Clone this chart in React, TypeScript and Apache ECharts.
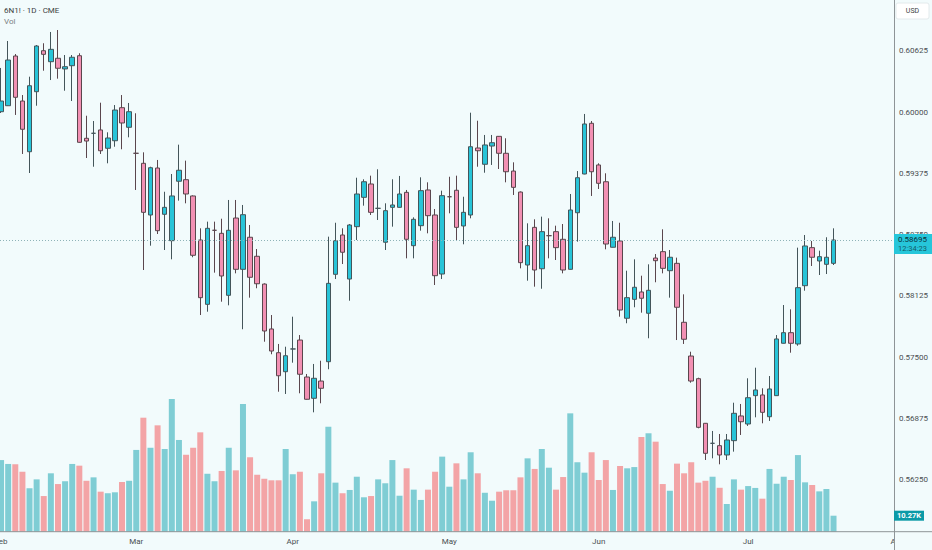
import React, { useEffect, useRef } from "react";
import * as echarts from "echarts";

// ---------- data ----------
const SYMBOL = "6N1! · 1D · CME";
const VOL_TITLE = "Vol";
const CURRENCY = "USD";
const COUNTDOWN = "12:34:23";
const SLOT_COUNT = 126; // trading-day slots shown on the time axis

// [open, close, low, high]
const candles: number[][] = [
  [0.60003, 0.60112, 0.5999, 0.60449],
  [0.60064, 0.6053, 0.60061, 0.60724],
  [0.60571, 0.6015, 0.5997, 0.60591],
  [0.60112, 0.59824, 0.59572, 0.60173],
  [0.59595, 0.60268, 0.59378, 0.6036],
  [0.60207, 0.60673, 0.60064, 0.60683],
  [0.60625, 0.60588, 0.60421, 0.60701],
  [0.60513, 0.60639, 0.60326, 0.60816],
  [0.60548, 0.60446, 0.6034, 0.60836],
  [0.60439, 0.60462, 0.60217, 0.60581],
  [0.60472, 0.60558, 0.60112, 0.60581],
  [0.60574, 0.59691, 0.59687, 0.60599],
  [0.59732, 0.59704, 0.59531, 0.59962],
  [0.59783, 0.59783, 0.59442, 0.59908],
  [0.59817, 0.59605, 0.59572, 0.60095],
  [0.5963, 0.59735, 0.59477, 0.59793],
  [0.59707, 0.6002, 0.59646, 0.60071],
  [0.60044, 0.59888, 0.5962, 0.60173],
  [0.59844, 0.60003, 0.59742, 0.60092],
  [0.59579, 0.59579, 0.59205, 0.59987],
  [0.59477, 0.58977, 0.58389, 0.59589],
  [0.5895, 0.59432, 0.58637, 0.59442],
  [0.59429, 0.5879, 0.58756, 0.59511],
  [0.58957, 0.59028, 0.58593, 0.59187],
  [0.58688, 0.59144, 0.58498, 0.59368],
  [0.59294, 0.59406, 0.59096, 0.59667],
  [0.5931, 0.59164, 0.59069, 0.59504],
  [0.59144, 0.58539, 0.58519, 0.5915],
  [0.58695, 0.58107, 0.5793, 0.58814],
  [0.58039, 0.58814, 0.57964, 0.58882],
  [0.58794, 0.58794, 0.58362, 0.58882],
  [0.58763, 0.58328, 0.58066, 0.58912],
  [0.58131, 0.58794, 0.58029, 0.59103],
  [0.58919, 0.58396, 0.58355, 0.59103],
  [0.58396, 0.58953, 0.57785, 0.59052],
  [0.58723, 0.58315, 0.58107, 0.58848],
  [0.58529, 0.58249, 0.58203, 0.58603],
  [0.58246, 0.57767, 0.57658, 0.58253],
  [0.57788, 0.57563, 0.5753, 0.5793],
  [0.57546, 0.57311, 0.57148, 0.57635],
  [0.57352, 0.57515, 0.57125, 0.57607],
  [0.57584, 0.57584, 0.57444, 0.57913],
  [0.57675, 0.57326, 0.57132, 0.57726],
  [0.57298, 0.57071, 0.57068, 0.57329],
  [0.57081, 0.57285, 0.56938, 0.57431],
  [0.57257, 0.57183, 0.5703, 0.57464],
  [0.57454, 0.58253, 0.57377, 0.58729],
  [0.58345, 0.58688, 0.58297, 0.58871],
  [0.58746, 0.5857, 0.5845, 0.58814],
  [0.58297, 0.58848, 0.58076, 0.58858],
  [0.58831, 0.59164, 0.58695, 0.5933],
  [0.5913, 0.59289, 0.59045, 0.59314],
  [0.59266, 0.58977, 0.5895, 0.59351],
  [0.59018, 0.59018, 0.58899, 0.59416],
  [0.58672, 0.58994, 0.58593, 0.59069],
  [0.59028, 0.59052, 0.58831, 0.59314],
  [0.59028, 0.59164, 0.59025, 0.59348],
  [0.59181, 0.58702, 0.58508, 0.59205],
  [0.58637, 0.58906, 0.58508, 0.58926],
  [0.58841, 0.59198, 0.5879, 0.59334],
  [0.59205, 0.58943, 0.58763, 0.59283],
  [0.5895, 0.58331, 0.58236, 0.59011],
  [0.58348, 0.59147, 0.58297, 0.59198],
  [0.59136, 0.59136, 0.58967, 0.5934],
  [0.59202, 0.58824, 0.58688, 0.59351],
  [0.58838, 0.58977, 0.58651, 0.59136],
  [0.5895, 0.59646, 0.58916, 0.59993],
  [0.59633, 0.59605, 0.59442, 0.59911],
  [0.59467, 0.59664, 0.59381, 0.59766],
  [0.59653, 0.59687, 0.5946, 0.59766],
  [0.59752, 0.59579, 0.59419, 0.59755],
  [0.59579, 0.59391, 0.59283, 0.59732],
  [0.59398, 0.59232, 0.59154, 0.59487],
  [0.59184, 0.58464, 0.58406, 0.5919],
  [0.5844, 0.58637, 0.5828, 0.58865],
  [0.58824, 0.58389, 0.58219, 0.58906],
  [0.58402, 0.5878, 0.58198, 0.58933],
  [0.58739, 0.58739, 0.58508, 0.58916],
  [0.5878, 0.58617, 0.58491, 0.58841],
  [0.58702, 0.58389, 0.58355, 0.58858],
  [0.58396, 0.59001, 0.58393, 0.59164],
  [0.58973, 0.5933, 0.58678, 0.59398],
  [0.59368, 0.59878, 0.59365, 0.5998],
  [0.59885, 0.59391, 0.59144, 0.59908],
  [0.5946, 0.59273, 0.59215, 0.59477],
  [0.59289, 0.58654, 0.586, 0.59375],
  [0.58621, 0.58723, 0.58619, 0.58889],
  [0.58685, 0.57981, 0.57913, 0.58871],
  [0.57897, 0.58107, 0.57846, 0.58382],
  [0.5809, 0.58213, 0.58009, 0.58498],
  [0.58165, 0.58101, 0.57954, 0.58331],
  [0.57948, 0.58182, 0.57693, 0.58447],
  [0.58511, 0.58484, 0.58264, 0.58552],
  [0.58576, 0.58406, 0.58355, 0.58804],
  [0.58382, 0.58519, 0.58107, 0.58593],
  [0.58457, 0.58009, 0.57675, 0.58515],
  [0.57856, 0.57683, 0.57635, 0.58141],
  [0.57512, 0.57257, 0.5724, 0.57556],
  [0.57281, 0.56785, 0.56775, 0.57291],
  [0.56826, 0.5652, 0.56452, 0.56829],
  [0.56622, 0.56622, 0.56469, 0.56748],
  [0.56598, 0.56503, 0.56408, 0.56717],
  [0.56503, 0.56656, 0.56452, 0.56717],
  [0.56649, 0.56928, 0.56537, 0.57036],
  [0.56901, 0.56842, 0.56707, 0.57023],
  [0.56819, 0.57087, 0.56799, 0.57285],
  [0.57108, 0.57166, 0.56887, 0.57393],
  [0.57115, 0.56938, 0.56826, 0.57183],
  [0.56893, 0.57176, 0.5685, 0.57308],
  [0.57108, 0.57686, 0.57105, 0.57726],
  [0.57642, 0.5775, 0.5764, 0.58032],
  [0.5775, 0.57642, 0.57546, 0.57988],
  [0.57635, 0.58209, 0.57617, 0.58617],
  [0.58229, 0.58634, 0.58178, 0.58746],
  [0.58617, 0.58519, 0.5843, 0.58685],
  [0.58481, 0.58525, 0.58338, 0.58586],
  [0.58447, 0.58519, 0.58348, 0.58723],
  [0.58457, 0.58695, 0.5844, 0.58814],
];

// volume in thousands of contracts
const volumes: number[] = [
  46.0, 43.5, 43.3, 38.5, 27.9, 33.6, 22.9, 37.5, 30.6, 32.4,
  43.5, 42.4, 32.7, 34.9, 25.7, 24.7, 25.3, 31.9, 32.7, 52.5,
  73.2, 53.9, 68.3, 53.1, 85.2, 58.9, 49.4, 53.9, 63.8, 37.2,
  32.4, 39.0, 53.9, 39.4, 82.0, 47.8, 36.6, 34.0, 33.0, 33.0,
  53.1, 36.9, 38.5, 8.0, 19.5, 37.5, 67.4, 31.5, 24.7, 26.8,
  35.3, 22.1, 22.9, 33.6, 31.1, 46.0, 23.1, 40.7, 27.0, 20.4,
  27.0, 38.5, 48.2, 28.9, 43.9, 33.6, 51.0, 37.5, 25.0, 19.9,
  25.7, 26.6, 26.6, 34.9, 47.1, 40.3, 53.1, 41.1, 27.0, 35.1,
  76.0, 44.6, 37.9, 51.0, 33.2, 46.0, 26.8, 42.2, 40.7, 41.5,
  60.8, 63.2, 57.8, 30.6, 26.3, 43.7, 37.5, 44.6, 31.5, 32.7,
  35.3, 28.2, 17.8, 33.6, 27.0, 29.3, 28.1, 21.2, 40.3, 30.8,
  35.3, 33.2, 49.2, 31.7, 30.0, 25.9, 27.4, 10.27,
];

// month labels at their first trading-day slot
const monthStarts: [string, number][] = [
  ["Feb", 0],
  ["Mar", 19],
  ["Apr", 41],
  ["May", 63],
  ["Jun", 84],
  ["Jul", 105],
  ["Aug", 126],
];

const priceTicks = [0.5625, 0.56875, 0.575, 0.58125, 0.5875, 0.59375, 0.6, 0.60625];
const PRICE_MIN = 0.557208;
const PRICE_MAX = 0.61142;
const VOL_AXIS_MAX = 341.4;

// ---------- styles ----------
const BG = "#f2fbfc";
const UP = "#28c4d8";
const DOWN = "#f290b3";
const VOL_UP = "#7fcdd4";
const VOL_DOWN = "#f3a4a6";
const FONT = "Roboto, 'DejaVu Sans', sans-serif";
const TEXT = "#4a4f52";
const AXIS_LINE = "#8e9497";

export default function App() {
  const ref = useRef<HTMLDivElement>(null);

  useEffect(() => {
    const el = ref.current;
    if (!el) return;
    const chart = echarts.init(el, null, { renderer: "svg" });

    const categories = Array.from({ length: SLOT_COUNT }, (_, i) => String(i));
    const labelAt: Record<number, string> = {};
    monthStarts.forEach(([m, i]) => (labelAt[i] = m));

    const last = candles[candles.length - 1];
    const lastClose = last[1];
    const lastVol = volumes[volumes.length - 1];

    const volData = volumes.map((v, i) => ({
      value: v,
      itemStyle: { color: candles[i][1] >= candles[i][0] ? VOL_UP : VOL_DOWN },
    }));

    const gridRightX = 894;
    const axisY = 531.7;

    chart.setOption({
      animation: false,
      backgroundColor: BG,
      grid: {
        left: -2.5,
        right: 932 - gridRightX,
        top: 0,
        bottom: 550 - axisY,
        containLabel: false,
        outerBoundsMode: "none",
      },
      xAxis: {
        type: "category",
        data: categories,
        boundaryGap: true,
        axisLine: { show: false },
        axisTick: { show: false },
        splitLine: { show: false },
        axisLabel: {
          interval: 0,
          margin: 6,
          color: TEXT,
          fontSize: 8,
          fontFamily: FONT,
          formatter: (_v: string, idx: number) => labelAt[idx] ?? "",
        },
      },
      yAxis: [
        {
          type: "value",
          position: "right",
          min: PRICE_MIN,
          max: PRICE_MAX,
          z: 10,
          axisLine: { show: false },
          axisTick: { show: false },
          splitLine: { show: false },
          axisLabel: {
            customValues: priceTicks,
            formatter: (v: number) => v.toFixed(5),
            color: TEXT,
            fontSize: 8,
            fontFamily: FONT,
            margin: 5,
          },
        },
        { type: "value", min: 0, max: VOL_AXIS_MAX, show: false },
      ],
      series: [
        {
          type: "bar",
          yAxisIndex: 1,
          data: volData,
          barWidth: 6,
          z: 2,
        },
        {
          type: "candlestick",
          data: candles,
          barWidth: 5,
          z: 3,
          itemStyle: {
            color: UP,
            color0: DOWN,
            borderColor: "#44555a",
            borderColor0: "#5a464d",
            borderWidth: 1,
          },
        },
      ],
    });

    const py = chart.convertToPixel({ yAxisIndex: 0 }, lastClose) as number;
    const vy = chart.convertToPixel({ yAxisIndex: 1 }, lastVol) as number;
    const x124 = chart.convertToPixel({ xAxisIndex: 0 }, categories[124]) as number;
    const x125 = chart.convertToPixel({ xAxisIndex: 0 }, categories[125]) as number;
    const augEntry = monthStarts.find(([, i]) => i >= SLOT_COUNT);
    const augX = x125 + (augEntry ? augEntry[1] - 125 : 1) * (x125 - x124);
    const lineY = Math.round(py) + 0.5;

    const graphic: any[] = [
      // header
      { type: "text", left: 4, top: 6, z: 30, style: { text: SYMBOL, fill: "#3b3f42", fontSize: 8, fontFamily: FONT } },
      { type: "text", left: 4, top: 17, z: 30, style: { text: VOL_TITLE, fill: "#7b8083", fontSize: 8, fontFamily: FONT } },
      // last price dotted line
      { type: "line", z: 4, shape: { x1: 0, y1: lineY, x2: gridRightX, y2: lineY }, style: { stroke: "#8fb3b8", lineWidth: 1, lineDash: [1, 2] } },
      // month label beyond the last slot (clipped by price scale panel)
      augEntry
        ? { type: "text", x: augX, y: axisY + 6, z: 1, style: { text: augEntry[0], fill: TEXT, fontSize: 8, fontFamily: FONT, align: "center", verticalAlign: "top" } }
        : null,
      // price scale panel
      { type: "rect", z: 5, shape: { x: gridRightX, y: 0, width: 932 - gridRightX, height: 550 }, style: { fill: BG } },
      // axis lines
      { type: "line", z: 6, shape: { x1: gridRightX + 0.5, y1: 0, x2: gridRightX + 0.5, y2: 550 }, style: { stroke: AXIS_LINE, lineWidth: 1 } },
      { type: "line", z: 6, shape: { x1: 0, y1: axisY, x2: 932, y2: axisY }, style: { stroke: AXIS_LINE, lineWidth: 1 } },
      // currency box
      { type: "rect", z: 30, shape: { x: 896, y: 3, width: 33, height: 16, r: 2 }, style: { fill: "#ffffff", stroke: "#e3eaec", lineWidth: 1 } },
      { type: "text", z: 31, x: 912.5, y: 11, style: { text: CURRENCY, fill: "#3b3f42", fontSize: 7, fontFamily: FONT, align: "center", verticalAlign: "middle" } },
      // last price tag
      { type: "rect", z: 30, shape: { x: gridRightX, y: py - 6, width: 932 - gridRightX, height: 20 }, style: { fill: "#26c6da" } },
      { type: "text", z: 31, x: gridRightX + 4, y: py, style: { text: lastClose.toFixed(5), fill: "#0b2f38", fontSize: 8, fontFamily: FONT, verticalAlign: "middle" } },
      { type: "text", z: 31, x: gridRightX + 4, y: py + 9, style: { text: COUNTDOWN, fill: "#155a66", fontSize: 7.5, fontFamily: FONT, verticalAlign: "middle" } },
      // last volume tag
      { type: "rect", z: 30, shape: { x: gridRightX, y: vy - 5, width: 30, height: 10 }, style: { fill: "#0c9aa7" } },
      { type: "text", z: 31, x: gridRightX + 15, y: vy, style: { text: `${lastVol.toFixed(2)}K`, fill: "#ffffff", fontSize: 7.5, fontWeight: "bold", fontFamily: FONT, align: "center", verticalAlign: "middle" } },
    ].filter(Boolean);

    chart.setOption({ graphic });

    return () => {
      chart.dispose();
    };
  }, []);

  return <div ref={ref} style={{ position: "fixed", left: 0, top: 0, width: 932, height: 550 }} />;
}
